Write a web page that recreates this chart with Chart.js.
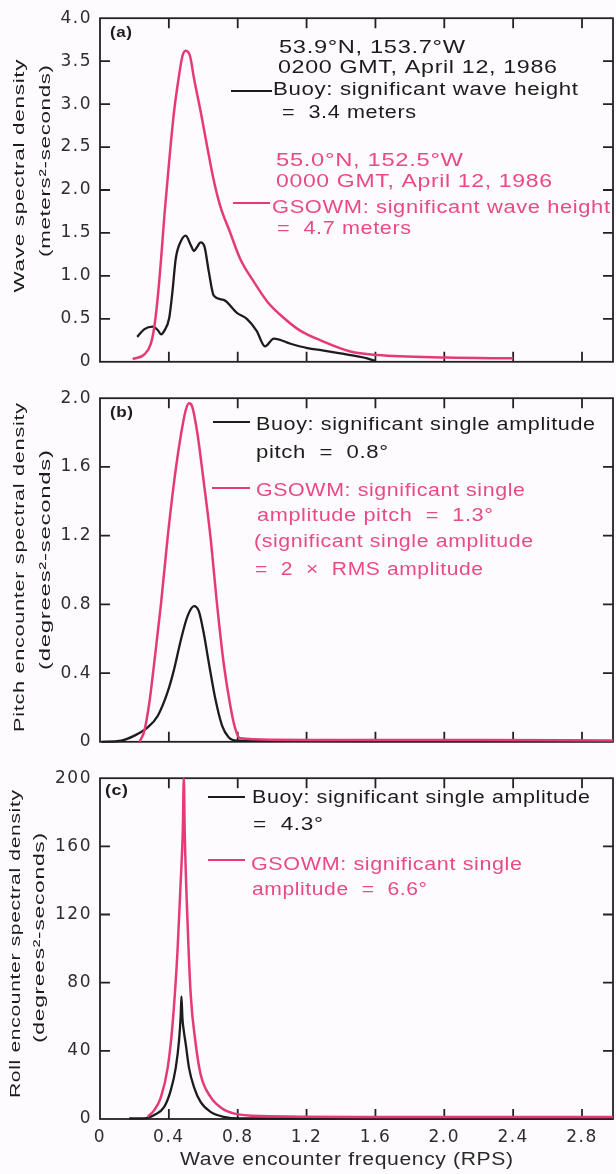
<!DOCTYPE html>
<html><head><meta charset="utf-8">
<script src="https://cdn.jsdelivr.net/npm/chart.js@4.4.0/dist/chart.umd.min.js"></script>
<style>
html,body{margin:0;padding:0;background:#fdfbfd;}
#wrap{position:relative;width:616px;height:1174px;overflow:hidden;background:#fdfbfd;}
canvas{position:absolute;left:0;}
</style></head><body>
<div id="wrap">
<canvas id="ca" width="616" height="380" style="top:0px"></canvas>
<canvas id="cb" width="616" height="380" style="top:380px"></canvas>
<canvas id="cc" width="616" height="414" style="top:760px"></canvas>
</div>
<script>
// ---------- tick values ----------
const xTicks = [0, 0.4, 0.8, 1.2, 1.6, 2.0, 2.4, 2.8];
const xMax = 2.98;
const waveTicks = [0, 0.5, 1.0, 1.5, 2.0, 2.5, 3.0, 3.5, 4.0];
const pitchTicks = [0, 0.4, 0.8, 1.2, 1.6, 2.0];
const rollTicks = [0, 40, 80, 120, 160, 200];

// ---------- (a) wave spectral density ----------
const waveModelX = [0.19,0.26,0.295,0.315,0.335,0.355,0.374,0.402,0.430,0.459,0.479,0.498,0.523,0.546,0.585,0.623,0.661,0.699,0.757,0.814,0.894,0.972,1.068,1.165,1.281,1.455,1.61,2.016,2.40];
const waveModelY = [0.03,0.09,0.21,0.40,0.74,1.20,1.70,2.34,2.91,3.33,3.56,3.62,3.56,3.30,2.91,2.50,2.11,1.81,1.50,1.20,0.93,0.70,0.51,0.36,0.25,0.12,0.08,0.05,0.04];
const waveBuoyX = [0.216,0.258,0.306,0.335,0.355,0.373,0.402,0.421,0.440,0.469,0.498,0.527,0.546,0.565,0.584,0.607,0.632,0.661,0.718,0.795,0.853,0.910,0.958,1.010,1.107,1.204,1.300,1.387,1.552,1.60];
const waveBuoyY = [0.29,0.38,0.41,0.37,0.32,0.36,0.51,0.82,1.20,1.40,1.47,1.36,1.29,1.34,1.39,1.34,1.05,0.77,0.72,0.57,0.50,0.36,0.18,0.27,0.21,0.16,0.13,0.10,0.04,0.01];

// ---------- (b) pitch encounter spectral density ----------
const pitchModelX = [0.23,0.258,0.287,0.315,0.354,0.393,0.430,0.469,0.498,0.517,0.536,0.565,0.603,0.642,0.680,0.718,0.757,0.786,0.814,1.0,1.6,2.2,2.98];
const pitchModelY = [0.0,0.065,0.23,0.46,0.80,1.19,1.51,1.78,1.93,1.97,1.95,1.80,1.51,1.19,0.80,0.46,0.21,0.075,0.02,0.012,0.01,0.01,0.008];
const pitchBuoyX = [0.01,0.124,0.2,0.277,0.335,0.393,0.430,0.469,0.508,0.546,0.574,0.603,0.632,0.670,0.709,0.747,0.795,1.2,2.0,2.98];
const pitchBuoyY = [0.0,0.007,0.036,0.084,0.15,0.29,0.42,0.59,0.73,0.79,0.76,0.63,0.46,0.25,0.094,0.027,0.007,0.005,0.004,0.004];

// ---------- (c) roll encounter spectral density ----------
const rollModelX = [0.277,0.315,0.354,0.393,0.421,0.450,0.469,0.481,0.487,0.492,0.508,0.527,0.556,0.585,0.642,0.709,0.776,0.93,1.5,2.98];
const rollModelY = [1.3,5.2,12.9,30,55,98,140,169,200,169,117,73,44,26,13,6.2,3.3,1.7,1.2,1.2];
const rollBuoyX = [0.17,0.258,0.315,0.373,0.411,0.440,0.459,0.469,0.473,0.479,0.485,0.498,0.517,0.546,0.584,0.642,0.718,0.81,2.98];
const rollBuoyY = [0.4,0.4,2.3,7.1,16.8,30,46,61,72,59,53,44,30,18.7,10,4.2,1.3,0.3,0.3];

// ---------- styling ----------
const INK = '#1c1c1c', PINK = '#e63a78', PINKTXT = '#e94a87';
const F = '17.5px "Liberation Sans", Arial, sans-serif';
const FT = '15.5px "Liberation Sans", Arial, sans-serif';
const FB = 'bold 15px "Liberation Sans", Arial, sans-serif';

const pts = (xs, ys) => xs.map((x, i) => ({x: x, y: ys[i]}));

const annotations = {
  ca: { off: 0,
    lines: [[231,272,91,INK],[233,270,203,PINK]],
    texts: [
      {t:'(a)', x:110, y:37, w:22, c:INK, f:FB},
      {t:'53.9°N, 153.7°W', x:279, y:52.7, w:186, c:INK, f:F},
      {t:'0200 GMT, April 12, 1986', x:278, y:72.7, w:279, c:INK, f:F},
      {t:'Buoy: significant wave height', x:273, y:95, w:305, c:INK, f:F},
      {t:'=  3.4 meters', x:282, y:118, w:134, c:INK, f:F},
      {t:'55.0°N, 152.5°W', x:276, y:166, w:187, c:PINKTXT, f:F},
      {t:'0000 GMT, April 12, 1986', x:276, y:187, w:276, c:PINKTXT, f:F},
      {t:'GSOWM: significant wave height', x:272, y:212.7, w:338, c:PINKTXT, f:F},
      {t:'=  4.7 meters', x:277, y:234, w:134, c:PINKTXT, f:F},
      {t:'Wave spectral density', x:24, y:176, w:233, c:INK, f:FT, rot:true},
      {t:'(meters²-seconds)', x:50, y:161, w:192, c:INK, f:FT, rot:true}
    ]},
  cb: { off: 380,
    lines: [[213,250,422,INK],[212,250,488,PINK]],
    texts: [
      {t:'(b)', x:110, y:417, w:23, c:INK, f:FB},
      {t:'Buoy: significant single amplitude', x:256, y:430, w:339, c:INK, f:F},
      {t:'pitch  =  0.8°', x:256, y:458, w:132, c:INK, f:F},
      {t:'GSOWM: significant single', x:256, y:495.5, w:269, c:PINKTXT, f:F},
      {t:'amplitude pitch  =  1.3°', x:257, y:521, w:236, c:PINKTXT, f:F},
      {t:'(significant single amplitude', x:254, y:547, w:279, c:PINKTXT, f:F},
      {t:'=  2  ×  RMS amplitude', x:255, y:575, w:228, c:PINKTXT, f:F},
      {t:'Pitch encounter spectral density', x:23.5, y:567.5, w:329, c:INK, f:FT, rot:true},
      {t:'(degrees²-seconds)', x:50, y:560, w:220, c:INK, f:FT, rot:true}
    ]},
  cc: { off: 760,
    lines: [[208,245,797,INK],[208,245,860,PINK]],
    texts: [
      {t:'(c)', x:105, y:795, w:23, c:INK, f:FB},
      {t:'Buoy: significant single amplitude', x:252, y:803, w:338, c:INK, f:F},
      {t:'=  4.3°', x:253, y:830, w:70, c:INK, f:F},
      {t:'GSOWM: significant single', x:251, y:870, w:271, c:PINKTXT, f:F},
      {t:'amplitude  =  6.6°', x:252, y:895, w:175, c:PINKTXT, f:F},
      {t:'Roll encounter spectral density', x:19.5, y:944, w:308, c:INK, f:FT, rot:true},
      {t:'(degrees²-seconds)', x:44, y:938, w:210, c:INK, f:FT, rot:true},
      {t:'Wave encounter frequency (RPS)', x:180, y:1165, w:333, c:'#2a2a2a', f:F}
    ]}
};

function drawText(ctx, s, off) {
  ctx.save();
  ctx.font = s.f; ctx.fillStyle = s.c;
  ctx.letterSpacing = '0.5px';
  ctx.textBaseline = 'alphabetic'; ctx.textAlign = 'left';
  const w = ctx.measureText(s.t).width - 0.5;
  const k = s.w ? s.w / w : 1;
  ctx.translate(s.x, s.y - off);
  if (s.rot) ctx.rotate(-Math.PI / 2);
  ctx.scale(k, 1);
  ctx.fillText(s.t, s.rot ? -w / 2 : 0, 0);
  ctx.restore();
}

const framePlugin = {
  id: 'frame',
  beforeDraw(chart) { chart.ctx.letterSpacing = '1.5px'; },
  beforeDatasetsDraw(chart) {
    const ctx = chart.ctx, a = chart.chartArea, x = chart.scales.x, y = chart.scales.y;
    ctx.save();
    ctx.strokeStyle = '#222'; ctx.lineWidth = 1.8;
    ctx.strokeRect(a.left, a.top, a.right - a.left, a.bottom - a.top);
    ctx.beginPath();
    const L = 10;
    xTicks.forEach(v => {
      if (v <= 0) return;
      const px = x.getPixelForValue(v);
      ctx.moveTo(px, a.top); ctx.lineTo(px, a.top + L);
      ctx.moveTo(px, a.bottom); ctx.lineTo(px, a.bottom - L);
    });
    y.ticks.forEach(t => {
      if (t.value <= y.min || t.value >= y.max) return;
      const py = y.getPixelForValue(t.value);
      ctx.moveTo(a.left, py); ctx.lineTo(a.left + L, py);
      ctx.moveTo(a.right, py); ctx.lineTo(a.right - L, py);
    });
    ctx.stroke();
    ctx.restore();
  },
  afterDraw(chart) {
    const spec = annotations[chart.canvas.id];
    if (!spec) return;
    const ctx = chart.ctx;
    ctx.save();
    spec.lines.forEach(l => {
      ctx.beginPath(); ctx.strokeStyle = l[3]; ctx.lineWidth = 2.2;
      ctx.moveTo(l[0], l[2] - spec.off); ctx.lineTo(l[1], l[2] - spec.off); ctx.stroke();
    });
    ctx.restore();
    spec.texts.forEach(s => drawText(ctx, s, spec.off));
  }
};

function makeChart(id, model, buoy, yMax, yTicks, pad, showX) {
  const yFmt = v => (v === 0 ? '0' : (yMax >= 100 ? String(v) : v.toFixed(1)));
  return new Chart(document.getElementById(id), {
    type: 'line',
    data: { datasets: [
      { data: model, borderColor: PINK, borderWidth: 2.5, pointRadius: 0, cubicInterpolationMode: 'monotone', fill: false, clip: 4 },
      { data: buoy, borderColor: INK, borderWidth: 2.3, pointRadius: 0, cubicInterpolationMode: 'monotone', fill: false, clip: 4 }
    ]},
    options: {
      responsive: false, animation: false, devicePixelRatio: 1,
      layout: { padding: pad },
      plugins: { legend: { display: false }, tooltip: { enabled: false } },
      events: [],
      scales: {
        x: {
          type: 'linear', min: 0, max: xMax, display: showX,
          grid: { display: false, drawTicks: false }, border: { display: false },
          afterBuildTicks: s => { s.ticks = xTicks.map(v => ({ value: v })); },
          afterFit: s => { s.height = showX ? 55 : 0; },
          ticks: { color: '#2e2e2e', padding: 8, maxRotation: 0, autoSkip: false,
                   font: { family: 'DejaVu Sans', size: 17 },
                   callback: v => (v === 0 ? '0' : Number(v).toFixed(1)) }
        },
        y: {
          type: 'linear', min: 0, max: yMax,
          grid: { display: false, drawTicks: false }, border: { display: false },
          afterBuildTicks: s => { s.ticks = yTicks.map(v => ({ value: v })); },
          afterFit: s => { s.width = 100; },
          ticks: { color: '#2e2e2e', padding: 8, autoSkip: false,
                   font: { family: 'DejaVu Sans', size: 17 },
                   callback: v => yFmt(v) }
        }
      }
    },
    plugins: [framePlugin]
  });
}

makeChart('ca', pts(waveModelX, waveModelY), pts(waveBuoyX, waveBuoyY), 4.0, waveTicks,
  { top: 15, right: 3, bottom: 15, left: 0 }, false);
makeChart('cb', pts(pitchModelX, pitchModelY), pts(pitchBuoyX, pitchBuoyY), 2.0, pitchTicks,
  { top: 15, right: 3, bottom: 17, left: 0 }, false);
makeChart('cc', pts(rollModelX, rollModelY), pts(rollBuoyX, rollBuoyY), 200, rollTicks,
  { top: 13, right: 3, bottom: 0, left: 0 }, true);
</script>
</body></html>
